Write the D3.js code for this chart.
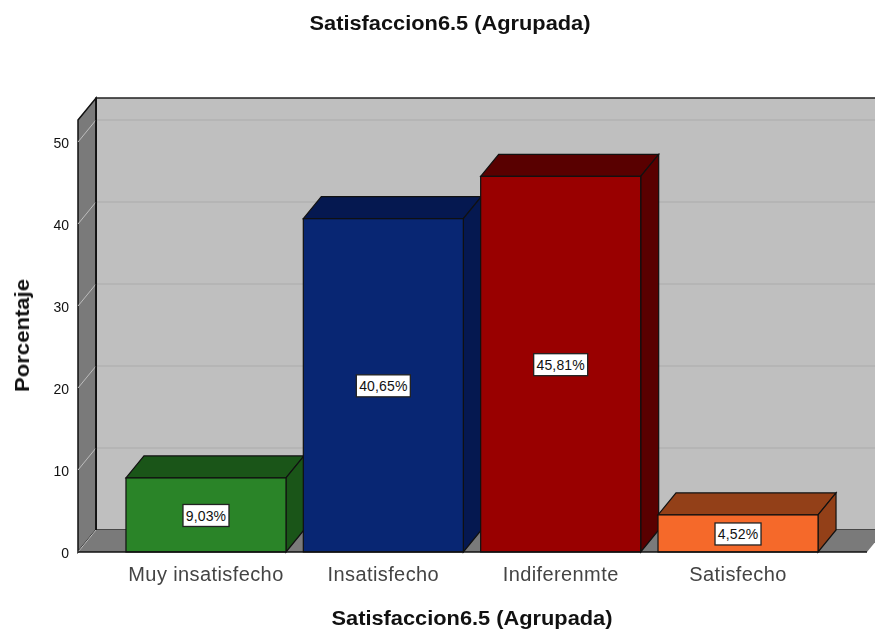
<!DOCTYPE html>
<html>
<head>
<meta charset="utf-8">
<script src="https://cdnjs.cloudflare.com/ajax/libs/d3/7.8.5/d3.min.js"></script>
<style>
	html, body { margin: 0; padding: 0; background: #fff; overflow: hidden; }
	svg { display: block; filter: blur(0.35px); }
	text { font-family: "Liberation Sans", Arial, sans-serif; }
</style>
</head>
<body>
<script>
var categories = ["Muy insatisfecho", "Insatisfecho", "Indiferenmte", "Satisfecho"];
var values = [9.03, 40.65, 45.81, 4.52];
var valueLabels = ["9,03%", "40,65%", "45,81%", "4,52%"];
var frontColours = ["#2a8428", "#082673", "#990000", "#f5692a"];
var sideColours = ["#1a5518", "#051850", "#590000", "#934018"];
var yTicks = [0, 10, 20, 30, 40, 50];

var width = 875, height = 630;
var depthX = 18, depthY = 22; // the fake 3d offset
var left = 78, right = 867, base = 552, top3d = 120;

var svg = d3.select("body").append("svg")
	.attr("width", width)
	.attr("height", height);

var y = d3.scaleLinear().domain([0, 50]).range([base, 142]);

var x = d3.scaleBand()
	.domain(categories)
	.range([117.3, 826.7])
	.paddingInner(0.0977)
	.paddingOuter(0.0489);

function poly(points) {
	return points.map(function(p) { return p.join(","); }).join(" ");
}

// walls
svg.append("polygon")
	.attr("points", poly([[left + depthX, top3d - depthY], [right + depthX, top3d - depthY],
		[right + depthX, base - depthY], [left + depthX, base - depthY]]))
	.attr("fill", "#bfbfbf")
	.attr("stroke", "#222")
	.attr("stroke-width", 1.5);

svg.append("polygon")
	.attr("points", poly([[left, top3d], [left + depthX, top3d - depthY],
		[left + depthX, base - depthY], [left, base]]))
	.attr("fill", "#7a7a7a")
	.attr("stroke", "#111")
	.attr("stroke-width", 1.5);

svg.append("polygon")
	.attr("points", poly([[left, base], [left + depthX, base - depthY],
		[right + depthX, base - depthY], [right, base]]))
	.attr("fill", "#7a7a7a")
	.attr("stroke", "none");

// gridlines, back wall then side wall
svg.selectAll("line.back")
	.data(yTicks.slice(1))
	.enter().append("line")
	.attr("class", "back")
	.attr("x1", left + depthX + 1)
	.attr("x2", right + depthX)
	.attr("y1", function(d) { return y(d) - depthY; })
	.attr("y2", function(d) { return y(d) - depthY; })
	.attr("stroke", "#b2b2b2")
	.attr("stroke-width", 1.5);

svg.selectAll("line.side")
	.data(yTicks)
	.enter().append("line")
	.attr("class", "side")
	.attr("x1", left)
	.attr("x2", left + depthX)
	.attr("y1", function(d) { return y(d); })
	.attr("y2", function(d) { return y(d) - depthY; })
	.attr("stroke", "#bdbdbd")
	.attr("stroke-width", 1);

// redraw the corner line over the gridlines
svg.append("line")
	.attr("x1", left + depthX).attr("x2", left + depthX)
	.attr("y1", top3d - depthY).attr("y2", base - depthY)
	.attr("stroke", "#111")
	.attr("stroke-width", 1.5);

// bars
var bars = svg.selectAll("g.bar")
	.data(categories)
	.enter().append("g")
	.attr("class", "bar");

bars.append("polygon")
	.attr("points", function(d, i) {
		var x0 = x(d), x1 = x0 + x.bandwidth(), yt = y(values[i]);
		return poly([[x0, yt], [x0 + depthX, yt - depthY], [x1 + depthX, yt - depthY], [x1, yt]]);
	})
	.attr("fill", function(d, i) { return sideColours[i]; })
	.attr("stroke", "#111")
	.attr("stroke-width", 1.2);

bars.append("polygon")
	.attr("points", function(d, i) {
		var x1 = x(d) + x.bandwidth(), yt = y(values[i]);
		return poly([[x1, yt], [x1 + depthX, yt - depthY], [x1 + depthX, base - depthY], [x1, base]]);
	})
	.attr("fill", function(d, i) { return sideColours[i]; })
	.attr("stroke", "#111")
	.attr("stroke-width", 1.2);

bars.append("rect")
	.attr("x", function(d) { return x(d); })
	.attr("y", function(d, i) { return y(values[i]); })
	.attr("width", x.bandwidth())
	.attr("height", function(d, i) { return base - y(values[i]); })
	.attr("fill", function(d, i) { return frontColours[i]; })
	.attr("stroke", "#111")
	.attr("stroke-width", 1.2);

// value labels
var labels = bars.append("g")
	.attr("transform", function(d, i) {
		return "translate(" + (x(d) + x.bandwidth() / 2) + "," + (y(values[i] / 2) + 0.5) + ")";
	});

labels.append("rect")
	.attr("x", function(d, i) { return valueLabels[i].length > 5 ? -27 : -23; })
	.attr("y", -11)
	.attr("width", function(d, i) { return valueLabels[i].length > 5 ? 54 : 46; })
	.attr("height", 22)
	.attr("fill", "#fff")
	.attr("stroke", "#222")
	.attr("stroke-width", 1.3);

labels.append("text")
	.attr("text-anchor", "middle")
	.attr("dy", "0.36em")
	.attr("font-size", 14)
	.attr("letter-spacing", 0.15)
	.attr("fill", "#111")
	.text(function(d, i) { return valueLabels[i]; });

// baseline
svg.append("line")
	.attr("x1", left).attr("x2", right)
	.attr("y1", base).attr("y2", base)
	.attr("stroke", "#111")
	.attr("stroke-width", 1.5);

// axes
var yAxis = svg.append("g")
	.attr("transform", "translate(" + left + ",1)")
	.call(d3.axisLeft(y).tickValues(yTicks).tickSize(0).tickPadding(9));
yAxis.select(".domain").remove();
yAxis.selectAll("text")
	.attr("font-size", 14)
	.attr("font-family", "Liberation Sans")
	.attr("fill", "#111");

var xAxis = svg.append("g")
	.attr("transform", "translate(0," + base + ")")
	.call(d3.axisBottom(x).tickSize(0).tickPadding(15));
xAxis.select(".domain").remove();
xAxis.selectAll("text")
	.attr("font-size", 20)
	.attr("letter-spacing", 0.4)
	.attr("font-family", "Liberation Sans")
	.attr("fill", "#444");

// titles
svg.append("text")
	.attr("x", 450).attr("y", 30)
	.attr("text-anchor", "middle")
	.attr("font-size", 20)
	.attr("font-weight", "bold")
	.attr("textLength", 281)
	.attr("lengthAdjust", "spacingAndGlyphs")
	.attr("fill", "#111")
	.text("Satisfaccion6.5 (Agrupada)");

svg.append("text")
	.attr("x", 472).attr("y", 625)
	.attr("text-anchor", "middle")
	.attr("font-size", 20)
	.attr("font-weight", "bold")
	.attr("textLength", 281)
	.attr("lengthAdjust", "spacingAndGlyphs")
	.attr("fill", "#111")
	.text("Satisfaccion6.5 (Agrupada)");

svg.append("text")
	.attr("transform", "translate(29,335.5) rotate(-90)")
	.attr("text-anchor", "middle")
	.attr("font-size", 20)
	.attr("font-weight", "bold")
	.attr("textLength", 113)
	.attr("lengthAdjust", "spacingAndGlyphs")
	.attr("fill", "#111")
	.text("Porcentaje");
</script>
</body>
</html>
